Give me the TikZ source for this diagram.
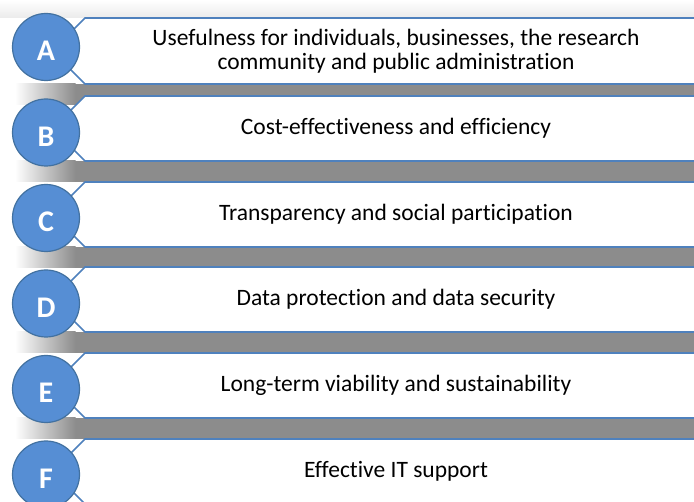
\documentclass[tikz,border=0pt]{standalone}
\usepackage{fontspec}
\setmainfont{Carlito}[Ligatures=NoCommon]
\definecolor{discblue}{RGB}{86,142,212}
\definecolor{discline}{RGB}{66,113,160}
\definecolor{boxline}{RGB}{79,129,189}
\definecolor{shadowgray}{RGB}{140,140,140}

\begin{document}
\begin{tikzpicture}[x=1pt,y=-1pt,
    disc/.style={circle,fill=discblue,draw=discline,line width=1.2pt,minimum size=67pt,inner sep=0pt,text=white,font=\fontsize{30}{32}\selectfont\bfseries},
    criterion/.style={align=center,font=\fontsize{23.5}{24.5}\selectfont},
    listbox/.style={fill=white,draw=boxline,line width=1.6pt}]  % one unit = one pixel
    \useasboundingbox (0,0) rectangle (694,502);
    \shade[top color=white,bottom color=black!8] (0,0) rectangle (694,18);  % faint shadow above the first box

    % letter/top/bottom/disc y/text
    \foreach \l/\t/\b/\c/\txt in {
        A/18/84/47/{Usefulness for individuals, businesses, the research\\community and public administration},
        B/96/161/132.5/{Cost-effectiveness and efficiency},
        C/182/247/218/{Transparency and social participation},
        D/267/332/303.5/{Data protection and data security},
        E/353/418/389/{Long-term viability and sustainability},
        F/439/504/474.5/{Effective IT support}}{
        % shadow below the box
        \fill[shadowgray] (75,\b) rectangle (710,\b+21);
        \shade[left color=white,right color=shadowgray] (15,\b) rectangle (75.5,\b+21);
        % the box with its cut corners
        \draw[listbox] (85,\t) -- (710,\t) -- (710,\b) -- (85,\b) -- (57,\b-28) -- (57,\t+28) -- cycle;
        \node[criterion] (t\l) at (396,{(\t+\b)/2}) {\txt};
        \node[disc] (c\l) at (46,\c) {};
        \node[text=white,font=\fontsize{30}{32}\selectfont\bfseries] (l\l) at ([yshift=-4pt]c\l.center) {\l};
    }
\end{tikzpicture}
\end{document}
